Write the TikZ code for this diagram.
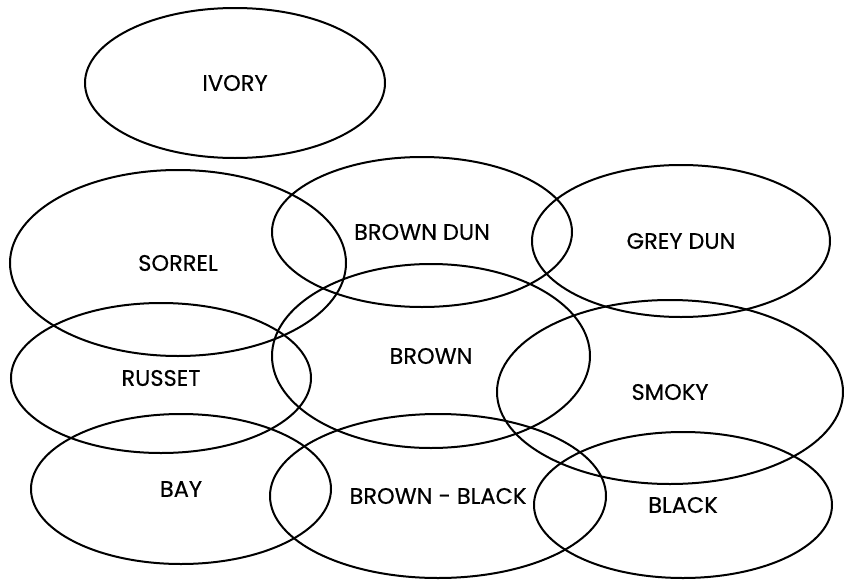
\documentclass[tikz,border=0pt]{standalone}
\usepackage{fontspec}
\newfontfamily\lblfont{Poppins}[FakeBold=0.4]
\usetikzlibrary{shapes.geometric}
\tikzset{
  colorset/.style={draw=black, line width=2pt, ellipse, inner sep=0pt,
    font=\lblfont\fontsize{22.5}{26}\selectfont}
}
\begin{document}
\begin{tikzpicture}[x=1pt,y=-1pt]
\useasboundingbox (0,0) rectangle (844,581);
\node[colorset, minimum width=300pt, minimum height=150pt] (ivory) at (235,83) {IVORY};
\node[colorset, minimum width=336pt, minimum height=186pt] (sorrel) at (178,263) {SORREL};
\node[colorset, minimum width=300pt, minimum height=150pt] (browndun) at (422,232) {BROWN DUN};
\node[colorset, minimum width=298pt, minimum height=152pt] (greydun) at (681,241) {GREY DUN};
\node[colorset, minimum width=300pt, minimum height=150pt] (russet) at (161,378) {RUSSET};
\node[colorset, minimum width=318pt, minimum height=184pt] (brown) at (431,356) {BROWN};
\node[colorset, minimum width=346pt, minimum height=184pt] (smoky) at (670,392) {SMOKY};
\node[colorset, minimum width=300pt, minimum height=150pt] (bay) at (181,489) {BAY};
\node[colorset, minimum width=336pt, minimum height=164pt] (brownblack) at (438,496) {BROWN - BLACK};
\node[colorset, minimum width=298pt, minimum height=146pt] (black) at (683,505) {BLACK};
\end{tikzpicture}
\end{document}
